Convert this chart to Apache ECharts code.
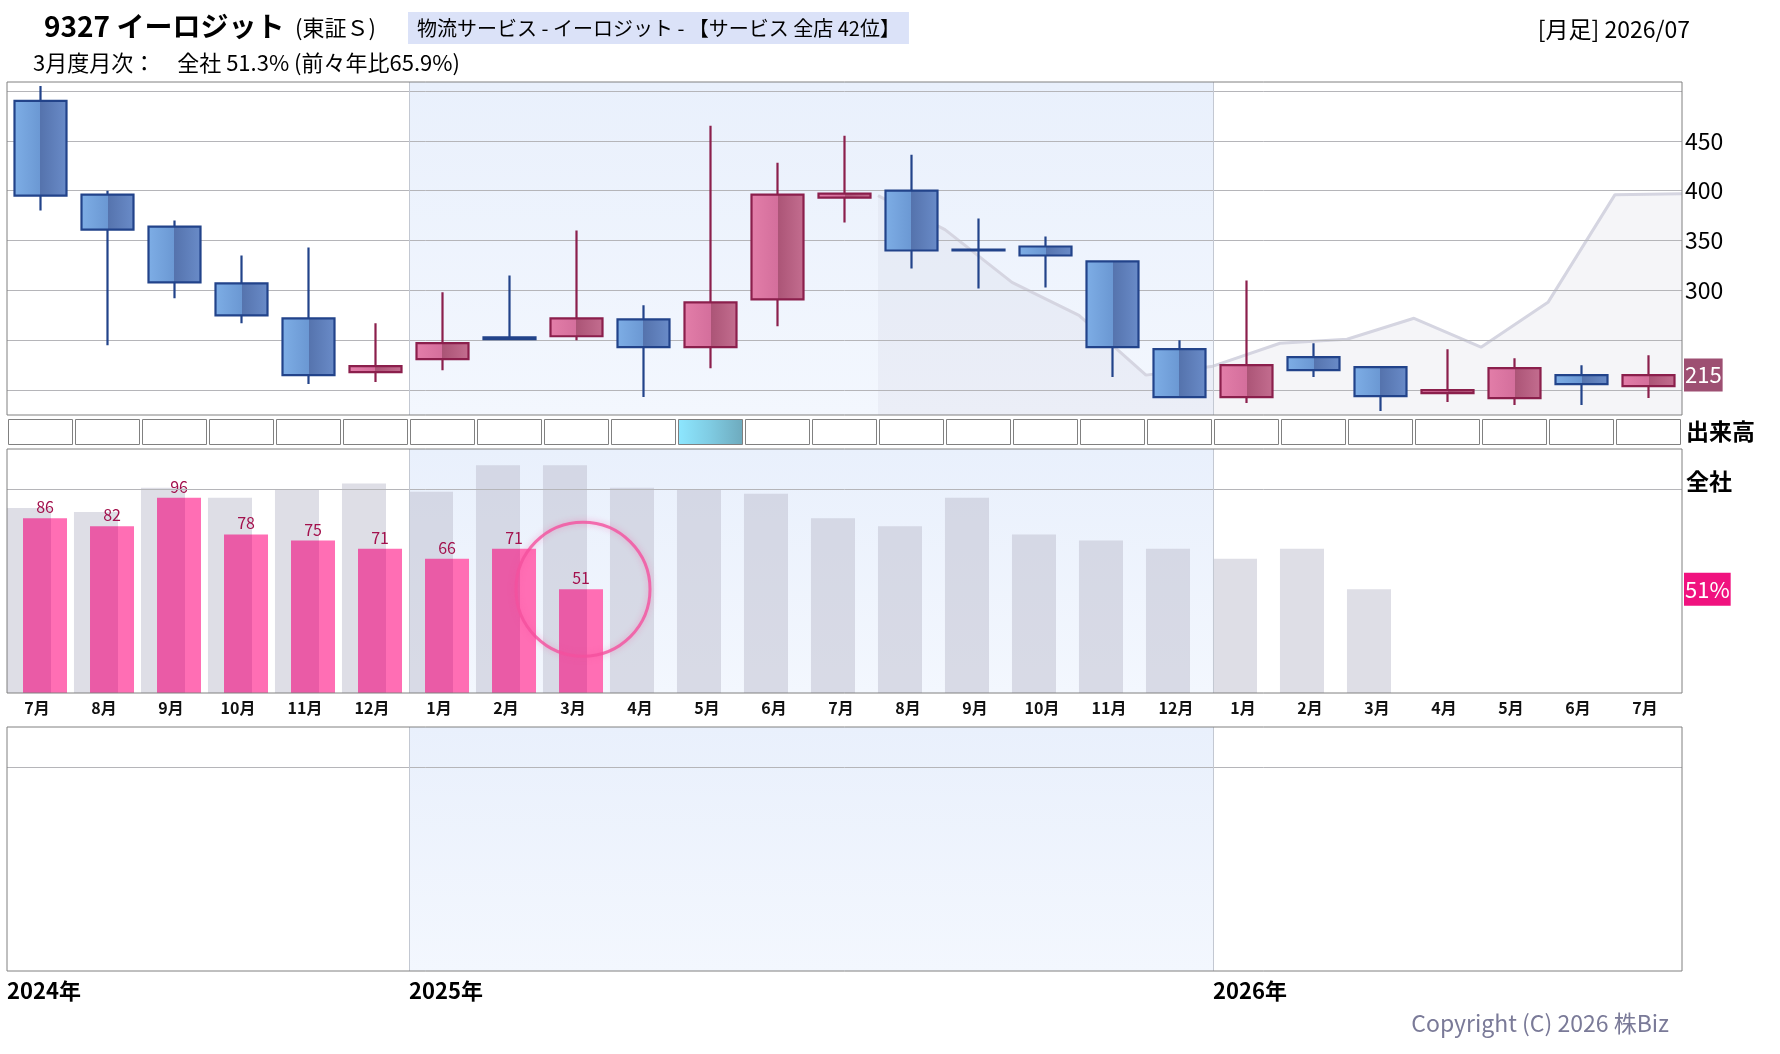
<!DOCTYPE html>
<html>
<head>
<meta charset="utf-8">
<title>9327 イーロジット 月足</title>
<script src="https://cdn.jsdelivr.net/npm/echarts@6/dist/echarts.min.js"></script>
<style>
html, body { margin: 0; padding: 0; background: #fff; }
#main { width: 1780px; height: 1054px; }
</style>
</head>
<body>
<div id="main"></div>
<script>
// 月足の区分 (2024/07 - 2026/07)
var months = ['2024/07', '2024/08', '2024/09', '2024/10', '2024/11', '2024/12',
    '2025/01', '2025/02', '2025/03', '2025/04', '2025/05', '2025/06',
    '2025/07', '2025/08', '2025/09', '2025/10', '2025/11', '2025/12',
    '2026/01', '2026/02', '2026/03', '2026/04', '2026/05', '2026/06', '2026/07'];

// 株価 (始値・終値・安値・高値)
var opens  = [490, 396, 364, 307, 272, 218, 231, 253, 254, 271, 243, 291, 393, 400, 341, 344, 329, 241, 193, 233, 223, 197, 192, 215, 204];
var closes = [395, 361, 308, 275, 215, 224, 247, 251, 272, 243, 288, 396, 397, 340, 340, 335, 243, 193, 225, 220, 194, 200, 222, 206, 215];
var lows   = [380, 245, 292, 267, 206, 208, 220, 250, 250, 193, 222, 264, 368, 322, 302, 303, 213, 193, 187, 213, 179, 188, 185, 185, 192];
var highs  = [505, 400, 370, 335, 343, 267, 298, 315, 360, 285, 465, 428, 455, 436, 372, 354, 330, 250, 310, 247, 223, 241, 232, 225, 235];

// 月次 全社 (%) と前年の値
var salesPct = [86, 82, 96, 78, 75, 71, 66, 71, 51, null, null, null, null,
    null, null, null, null, null, null, null, null, null, null, null, null];
var prevSalesPct = [91, 89, 101, 96, 100, 103, 99, 112, 112, 101, 100, 98, 86,
    82, 96, 78, 75, 71, 66, 71, 51, null, null, null, null];

// 目盛り
var priceGridLines = [200, 250, 300, 350, 400, 450, 500];
var priceTickLabels = [300, 350, 400, 450];
var volumeMonth = '2025/05';

var FONT = '"Noto Sans CJK JP", "Noto Sans", sans-serif';
var myChart = echarts.init(document.getElementById('main'));

var n = months.length;
var band0 = months.indexOf('2025/01');
var band1 = months.indexOf('2026/01');

var candleData = months.map(function (m, i) {
    return [opens[i], closes[i], lows[i], highs[i]];
});
var lastClose = closes[n - 1];

// 1年前の株価 (12か月ずらして各月の右端に置く)
var prevYearLine = [];
for (var i = 0; i + 12 < n; i++) {
    prevYearLine.push([i + 13, closes[i]]);
}

var lastIdx = 0;
salesPct.forEach(function (v, i) { if (v != null) lastIdx = i; });
var lastPct = salesPct[lastIdx];

function split(a, b, c, d, at) {
    return {
        type: 'linear', x: 0, y: 0, x2: 1, y2: 0,
        colorStops: [
            { offset: 0, color: a }, { offset: at, color: b },
            { offset: at, color: c }, { offset: 1, color: d }
        ]
    };
}

function bandArea() {
    return {
        silent: true,
        z: 1,
        itemStyle: {
            color: {
                type: 'linear', x: 0, y: 0, x2: 0, y2: 1,
                colorStops: [{ offset: 0, color: '#e9f0fc' }, { offset: 1, color: '#f3f7fe' }]
            }
        },
        data: [[{ xAxis: band0 }, { xAxis: band1 }]]
    };
}

function yearLines() {
    return [band0, band1].map(function (x) {
        return { xAxis: x, label: { show: false }, lineStyle: { color: '#c3c8d2', width: 1, type: 'solid' } };
    });
}

// 右端の値札
function priceTag(value, text, bg) {
    return {
        yAxis: value,
        lineStyle: { color: 'rgba(0,0,0,0)', width: 1, opacity: 1 },
        label: {
            show: true, position: 'end', distance: 2, formatter: text, opacity: 1,
            backgroundColor: bg, color: '#fff', fontSize: 22, fontFamily: FONT,
            padding: [6, 1, 5, 1]
        }
    };
}

var gridLineStyle = { color: '#b5b5b9', width: 1, type: 'solid' };

var priceMarks = priceGridLines.map(function (v) {
    return { yAxis: v, lineStyle: gridLineStyle, label: { show: priceTickLabels.indexOf(v) >= 0 } };
}).concat(yearLines());

var frameGrid = { show: true, borderColor: '#808080', borderWidth: 1, backgroundColor: 'transparent', z: 10 };

var option = {
    animation: false,
    textStyle: { fontFamily: FONT },
    title: [
        { text: '9327 イーロジット', left: 44, top: 12, padding: 0,
          textStyle: { fontSize: 28, fontWeight: 'bold', color: '#000', fontFamily: FONT } },
        { text: '(東証Ｓ)', left: 295, top: 17, padding: 0,
          textStyle: { fontSize: 22, fontWeight: 'normal', color: '#000', fontFamily: FONT } },
        { text: '物流サービス - イーロジット - 【サービス 全店 42位】', left: 408, top: 12,
          padding: [6, 9, 6, 9], backgroundColor: '#dbe2f8',
          textStyle: { fontSize: 20, fontWeight: 'normal', color: '#000', fontFamily: FONT } },
        { text: '3月度月次：　全社 51.3% (前々年比65.9%)', left: 33, top: 52, padding: 0,
          textStyle: { fontSize: 22, fontWeight: 'normal', color: '#000', fontFamily: FONT } },
        { text: '[月足] 2026/07', right: 90, top: 18, padding: 0,
          textStyle: { fontSize: 23, fontWeight: 'normal', color: '#000', fontFamily: FONT } },
        { text: '出来高', left: 1686, top: 420, padding: 0,
          textStyle: { fontSize: 23, fontWeight: 'bold', color: '#000', fontFamily: FONT } },
        { text: '全社', left: 1686, top: 470, padding: 0,
          textStyle: { fontSize: 23, fontWeight: 'bold', color: '#000', fontFamily: FONT } },
        { text: 'Copyright (C) 2026 株Biz', right: 111, top: 1012, padding: 0,
          textStyle: { fontSize: 23, fontWeight: 'normal', color: '#7a7a98', fontFamily: FONT } }
    ],
    grid: [
        Object.assign({ left: 7, top: 82, width: 1675, height: 333 }, frameGrid),
        { left: 7, top: 419, width: 1675, height: 26, show: false },
        Object.assign({ left: 7, top: 449, width: 1675, height: 244 }, frameGrid),
        { left: 3.5, top: 449, width: 1675, height: 244, show: false },
        Object.assign({ left: 7, top: 727, width: 1675, height: 244 }, frameGrid)
    ],
    xAxis: [
        { gridIndex: 0, type: 'category', data: months, show: false },
        { gridIndex: 0, type: 'value', min: 0, max: n, show: false },
        { gridIndex: 1, type: 'category', data: months, show: false },
        { gridIndex: 2, type: 'value', min: 0, max: n, show: false },
        { gridIndex: 3, type: 'category', data: months,
          axisLine: { show: false }, axisTick: { show: false }, splitLine: { show: false },
          axisLabel: {
              interval: 0, margin: 7, fontSize: 16, fontWeight: 'bold', color: '#111', fontFamily: FONT,
              formatter: function (m) { return parseInt(m.slice(5), 10) + '月'; }
          } },
        { gridIndex: 4, type: 'value', min: 0, max: n, interval: 6,
          axisLine: { show: false }, axisTick: { show: false }, splitLine: { show: false },
          axisLabel: {
              margin: 9, align: 'left', fontSize: 22, fontWeight: 'bold', color: '#000', fontFamily: FONT,
              formatter: function (v) {
                  var m = months[v];
                  if (!m) return '';
                  return (v === 0 || m.slice(5) === '01') ? m.slice(0, 4) + '年' : '';
              }
          } }
    ],
    yAxis: [
        { gridIndex: 0, type: 'value', min: 175, max: 509, show: false },
        { gridIndex: 1, type: 'value', min: 0, max: 1, show: false },
        { gridIndex: 2, type: 'value', min: 0, max: 120, show: false },
        { gridIndex: 3, type: 'value', min: 0, max: 120, show: false },
        { gridIndex: 4, type: 'value', min: 0, max: 120, show: false }
    ],
    series: [
        {
            name: '前年株価',
            type: 'line',
            xAxisIndex: 1, yAxisIndex: 0,
            data: prevYearLine,
            symbol: 'none',
            z: 1.5,
            lineStyle: { color: '#d5d5e1', width: 3 },
            areaStyle: { color: 'rgba(200,200,216,0.25)', origin: 'start' },
            markArea: bandArea(),
            markLine: {
                silent: true, z: 2, symbol: ['none', 'none'],
                lineStyle: gridLineStyle,
                label: { position: 'end', distance: 3, formatter: '{c}', fontSize: 23, color: '#000', fontFamily: FONT },
                data: priceMarks
            }
        },
        {
            name: '株価',
            type: 'candlestick',
            xAxisIndex: 0, yAxisIndex: 0,
            data: candleData,
            barWidth: 52,
            z: 3,
            itemStyle: {
                color: split('#e37ea9', '#d46f9c', '#ab5476', '#c46e90', 0.5),
                color0: split('#7eaee6', '#6b98d3', '#5573ad', '#6a8cc9', 0.5),
                borderColor: '#8b1f4c',
                borderColor0: '#22438a',
                borderWidth: 2.2
            }
        },
        {
            name: '終値',
            type: 'line',
            xAxisIndex: 1, yAxisIndex: 0,
            data: [],
            markLine: {
                silent: true, z: 6, symbol: ['none', 'none'],
                label: { show: false },
                data: [priceTag(lastClose, String(lastClose), '#9d4f72')]
            }
        },
        {
            name: '出来高',
            type: 'bar',
            xAxisIndex: 2, yAxisIndex: 1,
            barWidth: 65,
            itemStyle: { color: '#fff', borderColor: '#808080', borderWidth: 1 },
            data: months.map(function (m) {
                return m === volumeMonth
                    ? { value: 1, itemStyle: { color: split('#8de7ff', '#7fcbe2', '#7fcbe2', '#6eaabd', 0.5) } }
                    : 1;
            })
        },
        {
            name: '月次枠',
            type: 'line',
            xAxisIndex: 3, yAxisIndex: 2,
            data: [],
            markArea: bandArea(),
            markLine: {
                silent: true, z: 3, symbol: ['none', 'none'],
                lineStyle: gridLineStyle,
                label: { show: false },
                data: [{ yAxis: 100 }].concat(yearLines())
                    .concat([priceTag(lastPct, lastPct + '%', '#f0127f')])
            }
        },
        {
            name: '前年',
            type: 'bar',
            xAxisIndex: 4, yAxisIndex: 3,
            data: prevSalesPct,
            barWidth: 44,
            barGap: '-63.6%',
            z: 2,
            itemStyle: { color: 'rgba(189,189,205,0.5)' }
        },
        {
            name: '全社',
            type: 'bar',
            xAxisIndex: 4, yAxisIndex: 3,
            data: salesPct,
            barWidth: 44,
            barGap: '-63.6%',
            z: 2,
            itemStyle: { color: split('#ea5ba6', '#ea5ba6', '#ff6eb4', '#ff6eb4', 0.64) },
            label: { show: true, position: 'top', distance: 3, color: '#a3114d', fontSize: 16, fontFamily: FONT }
        },
        {
            name: '最新月',
            type: 'scatter',
            xAxisIndex: 4, yAxisIndex: 3,
            data: [[months[lastIdx], lastPct]],
            symbol: 'circle',
            symbolSize: 134,
            symbolOffset: [10, 0],
            z: 5,
            silent: true,
            itemStyle: {
                color: 'rgba(255,255,255,0)',
                borderColor: '#f4509e', borderWidth: 3,
                shadowBlur: 6, shadowColor: 'rgba(244,80,158,0.5)'
            }
        },
        {
            name: '下段枠',
            type: 'line',
            xAxisIndex: 5, yAxisIndex: 4,
            data: [],
            markArea: bandArea(),
            markLine: {
                silent: true, z: 3, symbol: ['none', 'none'],
                lineStyle: gridLineStyle,
                label: { show: false },
                data: [{ yAxis: 100 }].concat(yearLines())
            }
        }
    ]
};

myChart.setOption(option);
</script>
</body>
</html>
